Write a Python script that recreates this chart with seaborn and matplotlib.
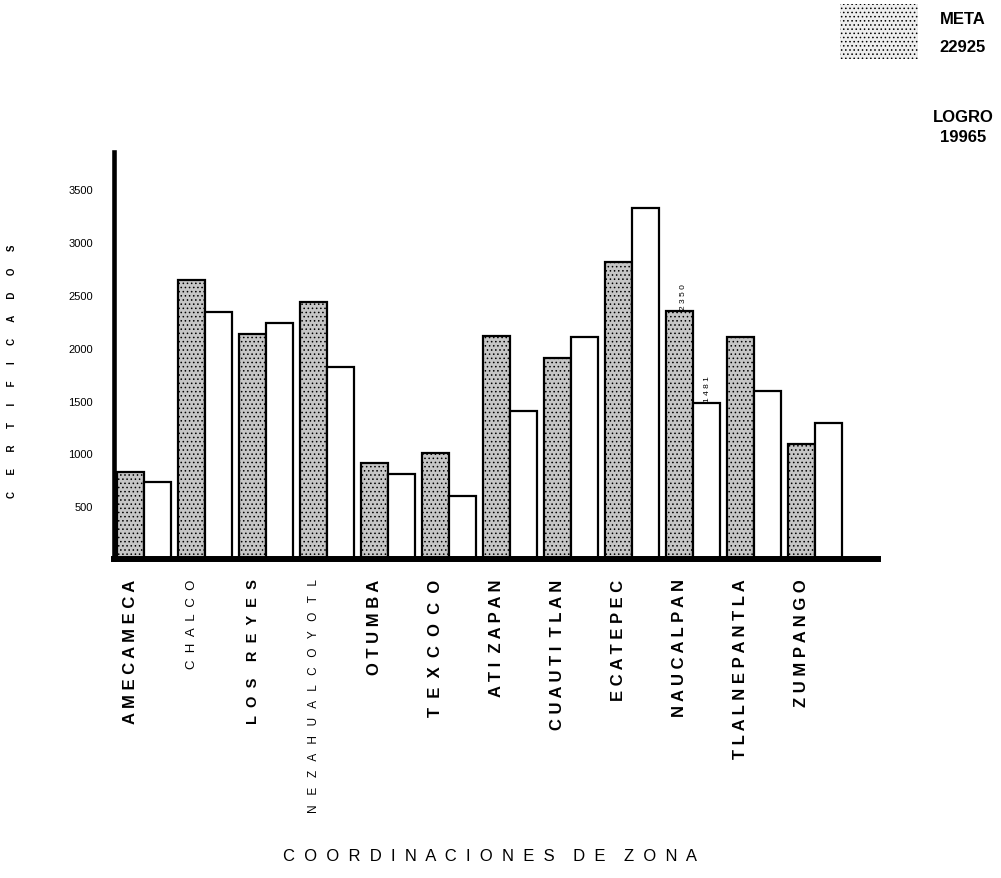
import numpy as np
import pandas as pd
import seaborn as sns
import matplotlib.pyplot as plt
from matplotlib.patches import Rectangle

# ---- data ----
zonas = ['AMECAMECA', 'CHALCO', 'LOS REYES', 'NEZAHUALCOYOTL', 'OTUMBA', 'TEXCOCO',
         'ATIZAPAN', 'CUAUTITLAN', 'ECATEPEC', 'NAUCALPAN', 'TLALNEPANTLA', 'ZUMPANGO']
meta = [824, 2642, 2131, 2434, 909, 1004, 2112, 1903, 2813, 2350, 2102, 1089]
logro = [729, 2339, 2235, 1818, 805, 597, 1402, 2102, 3324, 1481, 1591, 1288]
tick_labels = ['A M E C A M E C A', 'C  H  A  L  C  O', 'L  O  S    R  E  Y  E  S',
               'N   E   Z   A   H   U   A   L   C   O   Y   O   T   L',
               'O T U M B A', 'T  E  X  C  O  C  O', 'A T I  Z A P A N',
               'C U A U T I  T L A N', 'E C A T E P E C', 'N A U C A L P A N',
               'T L A L N E P A N T L A', 'Z U M P A N G O']
y_ticks = [500, 1000, 1500, 2000, 2500, 3000, 3500]
meta_total = 22925
logro_total = 19965

sns.set_theme(style='white')
plt.rcParams['font.family'] = ['Liberation Sans', 'DejaVu Sans']
plt.rcParams['hatch.linewidth'] = 0.6
plt.rcParams['text.color'] = 'black'
plt.rcParams['xtick.color'] = 'black'
plt.rcParams['ytick.color'] = 'black'

fig = plt.figure(figsize=(10.01, 8.79), dpi=100)
ax = fig.add_axes([0.1139, 0.3629, 0.763, 0.463])

df = pd.DataFrame({'zona': zonas * 2, 'valor': meta + logro,
                   'serie': ['META'] * len(zonas) + ['LOGRO'] * len(zonas)})
sns.barplot(data=df, x='zona', y='valor', hue='serie', order=zonas,
            hue_order=['META', 'LOGRO'],
            palette={'META': '#c6c6c6', 'LOGRO': 'white'},
            width=0.89, gap=0, edgecolor='black', linewidth=1.6,
            saturation=1, legend=False, errorbar=None, ax=ax)
for p in ax.containers[0]:
    p.set_hatch('....')

ax.set_xlim(-0.494, 12.03)
ax.set_ylim(0, 3854)
ax.set_yticks(y_ticks)
ax.set_yticklabels([str(v) for v in y_ticks])
ax.set_xticks(np.arange(len(zonas)) - 0.2225)
ax.set_xticklabels(tick_labels, rotation=90)
ax.tick_params(axis='y', length=0, labelsize=8, pad=15, colors='black')
ax.tick_params(axis='x', length=0, pad=14, colors='black')
styles = {1: ('normal', 9.5), 2: ('bold', 10.5), 3: ('normal', 8.5)}
for i, t in enumerate(ax.get_xticklabels()):
    w, s = styles.get(i, ('bold', 12))
    t.set_fontweight(w)
    t.set_fontsize(s)
    t.set_va('top')
ax.set_xlabel('')
ax.set_ylabel('')
for side in ['top', 'right']:
    ax.spines[side].set_visible(False)
ax.spines['left'].set_linewidth(3.3)
ax.spines['bottom'].set_linewidth(4.3)
ax.spines['left'].set_color('black')
ax.spines['bottom'].set_color('black')

idx = zonas.index('NAUCALPAN')
ax.annotate(' '.join(str(meta[idx])), xy=(idx - 0.2225, meta[idx]), xytext=(3, 1),
            textcoords='offset points', rotation=90, ha='center', va='bottom', fontsize=6)
ax.annotate(' '.join(str(logro[idx])), xy=(idx + 0.2225, logro[idx]), xytext=(1, 1),
            textcoords='offset points', rotation=90, ha='center', va='bottom', fontsize=6)

# legend-like block
fig.add_artist(Rectangle((840 / 1001, 1 - 60 / 879), 78 / 1001, 55 / 879,
                         transform=fig.transFigure, facecolor='#eeeeee',
                         edgecolor='black', linewidth=0, hatch='....'))
fig.text(963 / 1001, 1 - 20 / 879, 'META', fontsize=12, fontweight='bold', ha='center', va='center')
fig.text(963 / 1001, 1 - 48 / 879, str(meta_total), fontsize=12, fontweight='bold', ha='center', va='center')
fig.text(963 / 1001, 1 - 117 / 879, 'LOGRO', fontsize=12, fontweight='bold', ha='center', va='center')
fig.text(963 / 1001, 1 - 138 / 879, str(logro_total), fontsize=12, fontweight='bold', ha='center', va='center')

fig.text(12 / 1001, 1 - 371 / 879, '      '.join('CERTIFICADOS'), rotation=90,
         fontsize=7, fontweight='bold', ha='center', va='center')
fig.text(490 / 1001, 1 - 857 / 879,
         '    '.join(['  '.join(w) for w in 'COORDINACIONES DE ZONA'.split()]),
         fontsize=12, ha='center', va='center')

fig.savefig('out.png', dpi=100)
